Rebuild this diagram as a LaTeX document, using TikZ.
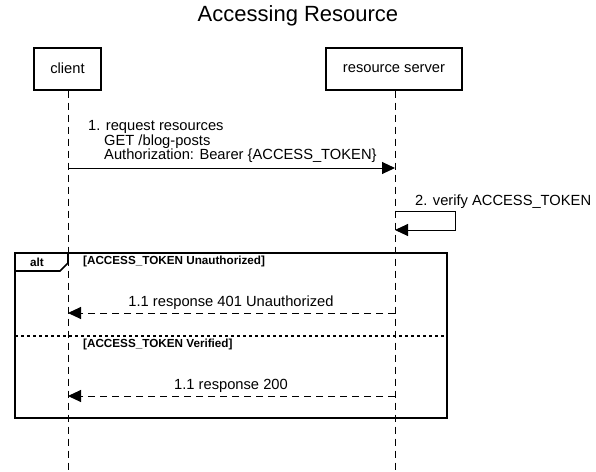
\documentclass[tikz,border=0pt]{standalone}
\usepackage{fontspec}
\setmainfont{Liberation Sans}
\usetikzlibrary{arrows.meta}
\begin{document}
\begin{tikzpicture}[x=1pt,y=-1pt,
  actor/.style={draw,line width=2pt,minimum height=42pt,inner sep=0pt,font=\fontsize{14.7}{16}\selectfont},
  lifeline/.style={line width=1pt,dash pattern=on 7pt off 5pt},
  msg/.style={line width=1pt,-{Triangle[length=13pt,width=12pt]}},
  reply/.style={line width=1pt,dash pattern=on 7pt off 5pt,-{Triangle[length=13pt,width=12pt]}},
  msglabel/.style={inner sep=0pt,font=\fontsize{14.7}{14.5}\selectfont},
  guard/.style={inner sep=0pt,font=\fontsize{11.7}{12}\selectfont\bfseries},
  frame/.style={draw,line width=2pt}]
\useasboundingbox (0,0) rectangle (596,471);
\fill[white] (0,0) rectangle (596,471);
% title
\node[inner sep=0pt,font=\fontsize{22}{24}\selectfont] (title) at (298,16) {Accessing Resource};
% actors
\node[actor,minimum width=67pt] (client) at (67.5,68.5) {client};
\node[actor,minimum width=136pt] (server) at (394,68.5) {resource server};
% lifeline ends
\coordinate (cend) at (68,471);
\coordinate (send) at (395,471);
\draw[lifeline] (client.south -| cend) -- (cend);
\draw[lifeline] (server.south -| send) -- (send);
% message 1
\coordinate (m1a) at (68,168);
\coordinate (m1b) at (395,168);
\draw[msg] (m1a) -- (m1b);
\node[msglabel,anchor=south west,align=left] (m1l) at (88,163) {1. request resources\\\hspace*{16pt}GET /blog-posts\\\hspace*{16pt}Authorization: Bearer \{ACCESS\_TOKEN\}};
% message 2 self
\coordinate (m2a) at (395,211);
\coordinate (m2r) at (455,211);
\coordinate (m2s) at (455,230);
\coordinate (m2b) at (395,230);
\draw[msg] (m2a) -- (m2r) -- (m2s) -- (m2b);
\node[msglabel,anchor=base west] (m2l) at (415,205) {2. verify ACCESS\_TOKEN};
% alt frame
\coordinate (ftl) at (15,253);
\coordinate (fbr) at (447,418);
\draw[frame] (ftl) rectangle (fbr);
\coordinate (tab1) at (15,271);
\coordinate (tab2) at (60,271);
\coordinate (tab3) at (68,263);
\coordinate (tab4) at (68,253);
\draw[frame,line width=1.6pt] (tab1) -- (tab2) -- (tab3) -- (tab4);
\node[guard] (altl) at (37,262) {alt};
\node[guard,anchor=west] (g1) at (83,261.5) {[ACCESS\_TOKEN Unauthorized]};
% reply 401
\coordinate (r1a) at (395,313);
\coordinate (r1b) at (68,313);
\draw[reply] (r1a) -- (r1b);
\node[msglabel,anchor=base] (r1l) at (231,306) {1.1 response 401 Unauthorized};
% separator
\coordinate (sepl) at (15,336);
\coordinate (sepr) at (447,336);
\draw[line width=2pt,dash pattern=on 3pt off 3pt] (sepl) -- (sepr);
\node[guard,anchor=west] (g2) at (83,344) {[ACCESS\_TOKEN Verified]};
% reply 200
\coordinate (r2a) at (395,396);
\coordinate (r2b) at (68,396);
\draw[reply] (r2a) -- (r2b);
\node[msglabel,anchor=base] (r2l) at (231,389) {1.1 response 200};
\end{tikzpicture}
\end{document}
